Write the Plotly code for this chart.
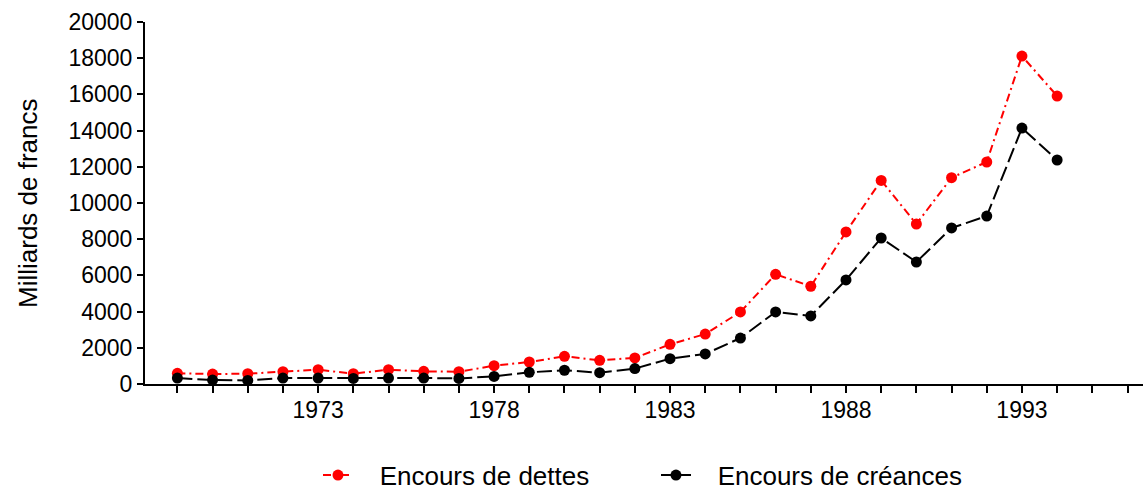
import plotly.graph_objects as go

years = list(range(1969, 1995))
dettes = [590, 550, 570, 680, 790, 570, 790, 700, 680, 1010, 1215, 1530,
          1310, 1440, 2190, 2760, 3980, 6060, 5400, 8400, 11250, 8840,
          11400, 12265, 18120, 15910]
creances = [330, 220, 200, 330, 330, 310, 330, 330, 310, 420, 645, 760,
            625, 850, 1400, 1660, 2540, 3980, 3760, 5750, 8066, 6740,
            8620, 9280, 14140, 12375]

tick_years = list(range(1969, 1997))
tick_labels = [str(y) if (y - 1973) % 5 == 0 else "" for y in tick_years]
y_ticks = list(range(0, 20001, 2000))

# non-breaking spaces widen the gap between legend symbol and text
PAD = "\u00a0\u00a0\u00a0"

fig = go.Figure()
fig.add_trace(go.Scatter(
    x=years, y=dettes, name=PAD + "Encours de dettes", mode="lines+markers",
    line=dict(color="#ff0000", width=2, dash="8px,4px,2px,4px"),
    marker=dict(color="#ff0000", size=11, symbol="circle")
))
fig.add_trace(go.Scatter(
    x=years, y=creances, name=PAD + "Encours de créances", mode="lines+markers",
    line=dict(color="#000000", width=2, dash="15px,5px"),
    marker=dict(color="#000000", size=11, symbol="circle")
))

fig.update_layout(
    width=1143, height=490,
    margin=dict(t=22, b=106, l=145, r=0, autoexpand=False),
    plot_bgcolor="white",
    paper_bgcolor="white",
    font=dict(family="Liberation Sans, Arial", size=23, color="black"),
    showlegend=True,
    legend=dict(orientation="h", x=0.512, xanchor="center", y=-0.252,
                yanchor="middle", font=dict(size=26),
                entrywidth=293, entrywidthmode="pixels"),
    xaxis=dict(
        range=[1968.08, 1996.44], showgrid=False, zeroline=False,
        showline=True, linecolor="black", linewidth=2, automargin=False,
        tickmode="array", tickvals=tick_years, ticktext=tick_labels,
        ticks="outside", ticklen=7, tickwidth=2, tickcolor="black",
        ticklabelstandoff=-3,
    ),
    yaxis=dict(
        range=[0, 20000], showgrid=False, zeroline=False,
        showline=True, linecolor="black", linewidth=2, automargin=False,
        tickmode="array", tickvals=y_ticks, ticktext=[str(v) for v in y_ticks],
        ticks="outside", ticklen=6, tickwidth=2, tickcolor="black",
    ),
    annotations=[dict(
        text="Milliards de francs", textangle=-90, font=dict(size=26),
        xref="paper", yref="paper", x=-117 / 998, y=0.5,
        xanchor="center", yanchor="middle", showarrow=False,
    )],
)

# drop the default 8px page margin so the figure fills the window exactly
fig.write_html("out.html", config={"displayModeBar": False},
               post_script="document.body.style.margin='0';"
                           "document.body.style.overflow='hidden';")
